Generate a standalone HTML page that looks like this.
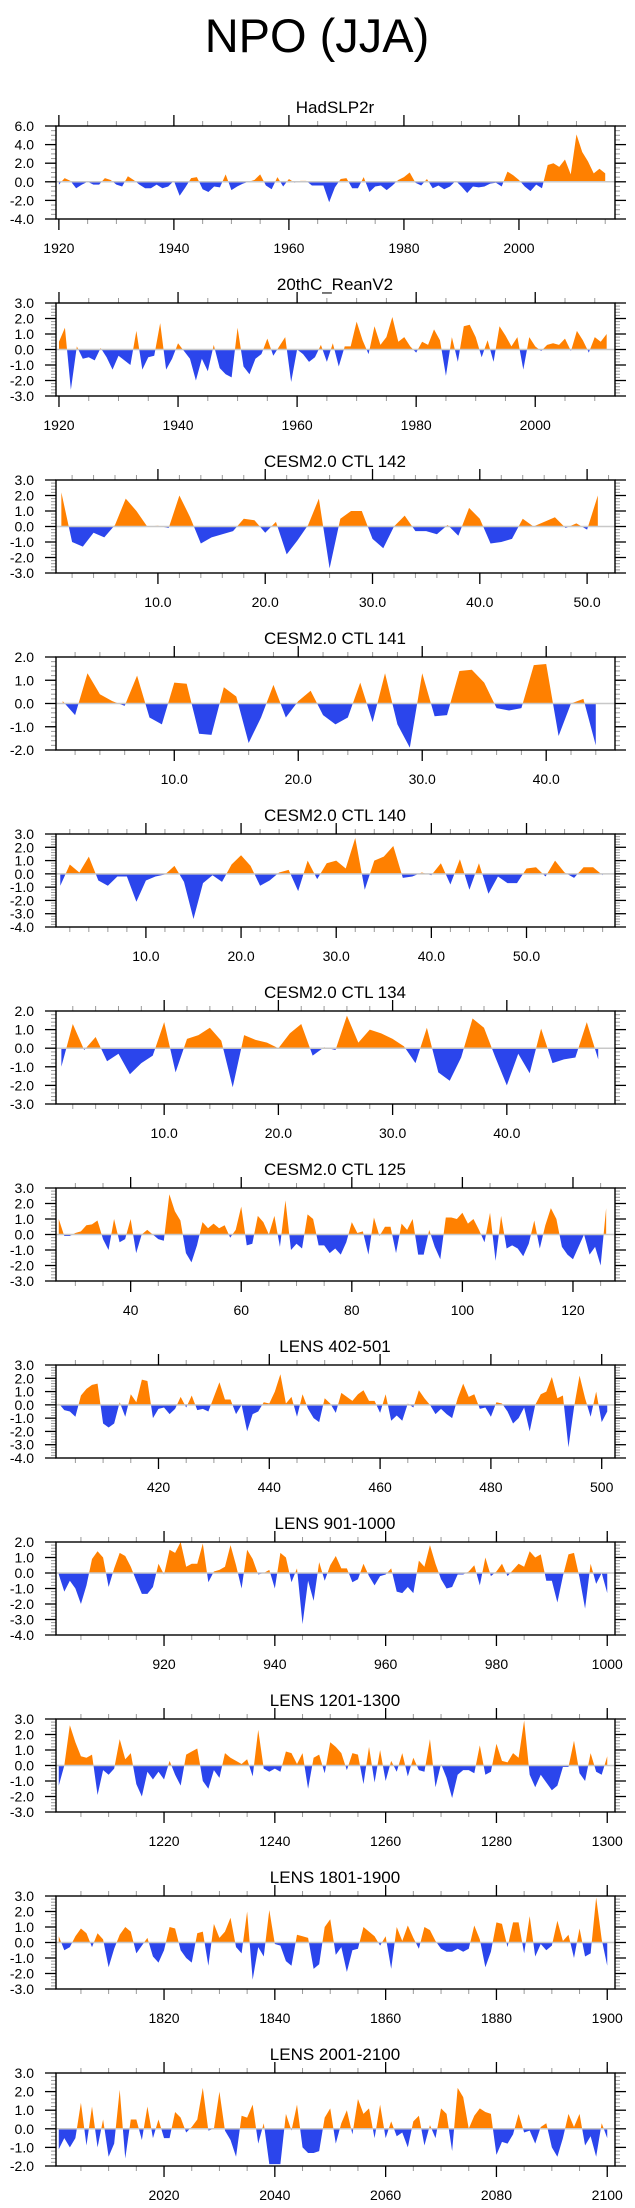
<!DOCTYPE html>
<html><head><meta charset="utf-8">
<style>
html,body{margin:0;padding:0;background:#fff;}
svg{display:block;font-family:"Liberation Sans",Arial,sans-serif;}
</style></head>
<body>
<svg id="chart" width="635" height="2208" viewBox="0 0 635 2208" xmlns="http://www.w3.org/2000/svg">
<rect x="0" y="0" width="635" height="2208" fill="#fff"/>
<text x="317" y="52" font-size="47" text-anchor="middle" fill="#000">NPO (JJA)</text>
<g id="panels"></g>
</svg>
<script>
const hadslp2r = [-0.3,0.4,0.1,-0.7,-0.3,0,-0.3,-0.3,0.4,0.2,
-0.3,-0.5,0.6,0.2,-0.3,-0.7,-0.7,-0.3,-0.7,-0.5,
0.1,-1.5,-0.6,0.4,0.5,-0.8,-1.1,-0.5,-0.6,0.8,
-0.9,-0.5,-0.2,0.0,0.2,0.8,-0.4,-0.8,0.5,-0.5,
0.3,-0.1,0.1,0.1,-0.4,-0.4,-0.4,-2.2,-0.6,0.3,
0.4,-0.7,-0.7,0.5,-1.1,-0.5,-0.4,-0.9,-0.4,0.2,
0.5,1.0,-0.1,-0.4,0.3,-0.7,-0.4,-0.8,-0.5,0.1,
-0.5,-1.2,-0.5,-0.6,-0.5,-0.2,-0.1,-0.5,1.1,0.7,
0.2,-0.5,-1.0,-0.3,-0.7,1.8,2.0,1.6,2.4,0.8,
5.1,3.2,2.2,0.9,1.4,0.9];
const reanV2 = [0.5,1.4,-2.6,0.2,-0.6,-0.5,-0.7,0.1,-0.5,-1.3,
-0.4,-0.7,-1.0,1.2,-1.3,-0.5,-0.4,1.7,-1.3,-0.6,
0.4,-0.1,-0.6,-2.0,-0.6,-1.4,0.3,-1.2,-1.6,-1.8,
1.4,-1.1,-1.6,-0.6,-0.3,0.7,-0.4,0.2,0.8,-2.1,
0.0,-0.3,-0.8,-0.5,0.3,-0.8,0.4,-1.1,0.2,0.2,
1.8,0.6,-0.3,1.5,0.3,0.8,2.1,0.5,0.8,0.2,
-0.2,0.5,0.3,1.3,0.6,-1.7,0.8,-0.8,1.5,1.6,
0.8,-0.5,0.6,-0.8,1.5,0.9,0.2,0.8,-1.3,0.8,
0.2,-0.1,0.3,0.4,0.3,0.7,-0.1,1.2,0.6,-0.2,
0.8,0.5,1.0];
const ctl142 = [2.2,-1.0,-1.3,-0.4,-0.7,0.1,1.8,1.0,0.0,0.05,
-0.1,2.0,0.6,-1.1,-0.7,-0.5,-0.3,0.5,0.4,-0.4,
0.3,-1.8,-0.9,0.1,1.8,-2.7,0.5,1.0,1.0,-0.8,
-1.4,0.0,0.7,-0.3,-0.3,-0.5,0.1,-0.6,1.2,0.5,
-1.1,-1.0,-0.8,0.5,0.0,0.3,0.6,-0.1,0.2,-0.2,2.0];
const ctl141 = [0.1,-0.5,1.3,0.4,0.1,-0.1,1.2,-0.6,-0.9,0.9,
0.85,-1.3,-1.35,0.7,0.3,-1.7,-0.6,0.8,-0.6,0.1,
0.55,-0.5,-0.9,-0.6,0.9,-0.8,1.3,-0.9,-1.9,1.3,
-0.55,-0.5,1.4,1.45,0.9,-0.2,-0.3,-0.2,1.65,1.7,
-1.4,0.0,0.2,-1.8];
const ctl140 = [-0.9,0.7,0.1,1.3,-0.5,-0.9,-0.2,-0.2,-2.1,-0.5,
-0.2,-0.05,0.6,-0.6,-3.4,-0.7,-0.1,-0.6,0.7,1.4,
0.6,-0.9,-0.5,0.1,0.3,-1.3,1.0,-0.4,0.8,1.0,
0.4,2.7,-1.2,1.0,1.3,2.1,-0.3,-0.2,0.1,-0.1,
0.8,-0.8,1.1,-1.2,0.8,-1.5,-0.2,-0.7,-0.7,0.4,
0.5,-0.2,1.0,0.1,-0.3,0.5,0.5,-0.1];
const ctl134 = [-1.0,1.3,-0.1,0.6,-0.7,-0.3,-1.4,-0.8,-0.4,1.4,
-1.3,0.5,0.7,1.1,0.4,-2.1,0.7,0.45,0.3,0.0,
0.8,1.3,-0.4,0.05,-0.1,1.75,0.3,1.0,0.8,0.5,
0.1,-0.8,1.1,-1.3,-1.75,-0.5,1.6,1.1,-0.5,-2.0,
-0.3,-1.35,1.05,-0.8,-0.6,-0.5,1.4,-0.6];
const ctl125 = [1.0,-0.1,-0.1,0.1,0.2,0.6,0.65,0.9,-0.3,-1.0,
1.0,-0.5,-0.3,1.0,-1.2,0.0,0.3,0.0,-0.3,-0.4,
2.6,1.5,0.9,-1.2,-1.8,-0.7,0.8,0.4,0.7,0.4,
0.6,-0.2,0.3,1.8,-0.7,-0.6,1.2,0.8,0.0,1.2,
-0.8,2.2,-1.0,-0.6,-0.9,1.3,1.0,-0.7,-0.7,-1.2,
-0.9,-1.3,-0.5,0.8,0.1,0.2,-1.3,1.1,-0.1,0.5,
0.5,-1.2,0.7,0.3,1.0,-1.3,-1.3,0.3,-0.8,-1.6,
1.1,1.1,1.0,1.4,0.7,1.0,0.3,-0.5,1.4,-1.7,
1.2,-0.9,-0.7,-0.9,-1.4,-0.6,0.9,-0.9,0.6,1.7,
1.0,-0.8,-1.3,-1.6,-0.8,0.0,-1.3,-0.8,-2.0,1.7];
const lens402 = [0.1,-0.4,-0.5,-0.9,0.7,1.2,1.5,1.6,-1.4,-1.7,
-1.4,0.2,-0.9,0.8,0.2,1.9,1.8,-1.0,-0.3,-0.2,
-0.7,-0.3,0.6,-0.2,0.7,-0.4,-0.3,-0.5,0.6,1.7,
0.4,0.4,-0.7,0.0,-2.0,-0.7,-0.5,0.2,0.1,1.0,
2.3,0.1,0.6,-0.9,0.8,-0.3,-1.0,-1.3,0.5,0.1,
-0.6,0.9,0.6,0.3,0.8,1.1,0.3,0.3,-0.6,0.8,
-1.2,-0.8,-1.2,0.1,-0.2,1.1,0.5,0.0,-0.7,-0.3,
-0.7,-1.0,0.5,1.6,0.6,0.8,-0.3,-0.2,-0.9,0.2,
0.1,-0.5,-1.4,-1.0,-0.2,-2.0,0.0,0.8,1.0,2.1,
0.5,0.7,-3.2,-0.2,2.2,0.5,-0.9,1.0,-1.3,-0.5];
const lens901 = [-0.1,-1.2,-0.5,-1.0,-2.0,-0.8,0.9,1.4,1.0,-0.9,
0.3,1.3,1.1,0.4,-0.5,-1.35,-1.35,-0.9,0.6,-0.1,
1.5,1.3,2.0,0.4,0.6,0.6,1.9,-0.6,0.1,0.2,
0.4,1.8,0.5,-1.0,1.5,0.9,-0.1,0.0,0.2,-1.0,
1.3,1.0,-0.6,0.3,-3.3,-0.5,-1.8,0.7,-0.5,0.5,
1.1,0.3,0.3,-0.6,-0.4,0.6,-0.2,-0.8,-0.2,-0.1,
0.3,-1.2,-1.3,-0.9,-1.3,0.8,0.4,1.8,0.6,-0.4,
-1.0,-0.9,-0.1,-0.1,0.1,0.5,-0.8,1.0,-0.2,0.1,
0.6,-0.2,0.2,0.6,0.4,1.4,1.0,1.2,-0.5,-0.5,
-1.9,-0.2,1.2,1.3,-0.3,-2.3,0.6,-0.7,0.0,-1.3];
const lens1201 = [-1.3,0.0,2.6,1.5,0.6,0.5,0.7,-1.9,-0.3,-0.6,
-0.2,1.7,0.4,0.8,-1.2,-2.0,-0.4,-0.9,-0.4,-0.9,
0.3,-0.6,-1.3,0.7,0.9,1.1,-1.0,-1.5,-0.3,-0.8,
0.8,0.5,0.3,0.1,0.4,-0.7,2.3,-0.2,-0.4,-0.2,
-0.4,0.9,0.8,0.1,0.8,-1.5,0.5,0.7,-0.5,1.5,
1.2,0.8,-0.3,0.8,0.7,-1.2,1.2,-1.1,1.0,-1.0,
0.3,-0.4,0.8,-0.7,0.5,-0.3,-0.4,1.7,-1.4,0.1,
-0.8,-2.1,-0.6,-0.3,-0.3,-0.5,1.3,-0.6,-0.4,1.4,
0.3,0.2,0.8,0.5,2.9,-0.6,-1.4,-0.6,-1.1,-1.6,
-1.3,-0.1,-0.1,1.6,-0.5,-1.0,0.8,-0.4,-0.6,0.6];
const lens1801 = [0.4,-0.5,-0.3,0.4,0.9,0.6,-0.3,0.6,0.2,-1.6,
-0.4,0.5,1.0,0.7,-0.7,-0.2,0.3,-0.9,-1.3,-0.5,
1.0,0.9,-0.5,-1.0,-1.3,0.6,0.7,-1.5,1.2,0.3,
0.7,1.6,-0.3,-0.7,2.0,-2.4,-0.3,-0.9,2.1,-0.1,
-0.2,-1.2,-1.5,0.5,0.4,0.3,-1.7,-1.4,1.0,1.5,
-0.8,-0.3,-1.9,-0.5,-0.4,1.0,0.7,0.4,-0.2,0.4,
-1.7,1.0,0.1,1.1,0.3,-0.4,1.0,0.8,0.1,-0.4,
-0.6,-0.6,-0.4,-0.6,-0.4,1.1,0.2,-1.6,-0.6,1.3,
1.2,-0.3,1.3,1.3,-0.7,1.7,-0.9,-0.1,-0.5,-0.2,
1.4,0.1,0.5,-1.0,0.9,-0.9,-0.7,2.9,0.2,-1.5];
const lens2001 = [-1.1,-0.5,-1.0,-0.5,1.4,-0.9,1.2,-1.0,0.5,-1.5,
-0.8,2.1,-1.6,0.5,0.5,-0.6,1.2,-0.5,0.5,-0.5,
-0.5,0.9,0.6,-0.2,0.1,0.5,2.2,-0.1,0.0,2.0,
-0.1,-0.6,-1.5,0.7,0.6,1.3,-0.8,0.3,-1.9,-1.9,
-1.9,0.8,-0.1,1.3,-1.0,-1.3,-1.3,-1.2,0.6,1.1,
-0.8,0.3,1.0,-0.3,1.6,0.8,1.1,-0.5,1.3,-0.5,
0.4,-0.4,-0.2,-1.0,0.4,0.7,-0.9,0.2,-0.5,1.1,
0.8,-1.2,2.2,1.7,0.0,0.7,1.1,0.9,0.8,-1.4,
-0.7,-0.8,-0.3,0.8,-0.2,-0.1,-0.8,0.1,0.3,-1.0,
-1.5,-0.5,0.8,0.1,0.8,-0.9,-0.4,-1.5,0.3,-0.5];

const panelTitles = ["HadSLP2r","20thC_ReanV2","CESM2.0 CTL 142","CESM2.0 CTL 141","CESM2.0 CTL 140","CESM2.0 CTL 134","CESM2.0 CTL 125","LENS 402-501","LENS 901-1000","LENS 1201-1300","LENS 1801-1900","LENS 2001-2100"];
const panelSeries = [hadslp2r,reanV2,ctl142,ctl141,ctl140,ctl134,ctl125,lens402,lens901,lens1201,lens1801,lens2001];
const panelStarts = [1920,1920,1,1,1,1,27,402,901,1201,1801,2001];
const panelXMin = [1919.5,1919.5,0.5,0.46,0.55,0.53,26.5,401.5,900.5,1200.5,1800.5,2000.5];
const panelXMax = [2016.7,2013.4,52.6,45.55,59.3,49.47,127.6,502.4,1001.4,1301.4,1901.4,2101.4];
const panelYMin = [-4,-3,-3,-2,-4,-3,-3,-4,-4,-3,-3,-2];
const panelYMax = [6,3,3,2,3,2,3,3,2,3,3,3];
const panelYStep = [2,1,1,1,1,1,1,1,1,1,1,1];
const panelXMajor = [20,20,10,10,10,10,20,20,20,20,20,20];
const panelXMinor = [5,5,2,2,2,2,5,5,5,5,5,5];
const panelXLabelDec = [0,0,1,1,1,1,0,0,0,0,0,0];

const NS = "http://www.w3.org/2000/svg";
const root = document.getElementById("panels");
const boxL = 56, boxR = 615, boxH = 93, top0 = 126, gap = 177;
function mk(tag, attrs, parent){
  const e = document.createElementNS(NS, tag);
  for (const k in attrs) e.setAttribute(k, attrs[k]);
  parent.appendChild(e);
  return e;
}
const ORANGE = "#FF8000", BLUE = "#2B45EC";

panelSeries.forEach((vals, i) => {
  const top = top0 + gap*i, bot = top + boxH;
  const x0 = panelXMin[i], x1 = panelXMax[i], y0 = panelYMin[i], y1 = panelYMax[i];
  const xs = v => boxL + (v - x0)/(x1 - x0)*(boxR - boxL);
  const ys = v => top + (y1 - v)/(y1 - y0)*boxH;
  const slug = panelTitles[i].toLowerCase().replace(/[^a-z0-9]+/g,'-');
  const g = mk("g", {}, root);
  
  

  const t = mk("text", {x: 335, y: top - 13, "font-size": 17, "text-anchor": "middle", fill: "#000"}, g);
  t.textContent = panelTitles[i];
  
  

  // clip paths
  const defs = mk("defs", {}, g);
  const cpA = mk("clipPath", {id: "ca" + i}, defs);
  mk("rect", {x: boxL, y: top, width: boxR - boxL, height: ys(0) - top}, cpA);
  const cpB = mk("clipPath", {id: "cb" + i}, defs);
  mk("rect", {x: boxL, y: ys(0), width: boxR - boxL, height: bot - ys(0)}, cpB);

  const s = panelStarts[i];
  let d = "M" + xs(s).toFixed(2) + "," + ys(0).toFixed(2);
  vals.forEach((v, k) => { d += " L" + xs(s + k).toFixed(2) + "," + ys(v).toFixed(2); });
  d += " L" + xs(s + vals.length - 1).toFixed(2) + "," + ys(0).toFixed(2) + " Z";
  const pa = mk("path", {d: d, fill: ORANGE, "clip-path": "url(#ca" + i + ")"}, g);
  
  
  const pb = mk("path", {d: d, fill: BLUE, "clip-path": "url(#cb" + i + ")"}, g);
  
  

  const zl = mk("line", {x1: boxL, x2: boxR, y1: ys(0), y2: ys(0), stroke: "#c8c8c8", "stroke-width": 1.5}, g);
  
  

  // y ticks
  const ystep = panelYStep[i];
  const ymin = ystep === 2 ? ystep/4 : ystep/5;
  for (let v = y0; v <= y1 + 1e-6; v += ymin) {
    const yy = ys(v);
    mk("line", {x1: boxL - 5, x2: boxL, y1: yy, y2: yy, stroke: "#999", "stroke-width": 1}, g);
    mk("line", {x1: boxR, x2: boxR + 5, y1: yy, y2: yy, stroke: "#999", "stroke-width": 1}, g);
  }
  for (let v = y0; v <= y1 + 1e-6; v += ystep) {
    const yy = ys(v);
    mk("line", {x1: boxL - 11, x2: boxL, y1: yy, y2: yy, stroke: "#000", "stroke-width": 1.3}, g);
    mk("line", {x1: boxR, x2: boxR + 11, y1: yy, y2: yy, stroke: "#000", "stroke-width": 1.3}, g);
    const lb = mk("text", {x: 34, y: yy + 5, "font-size": 14, "text-anchor": "end", fill: "#000"}, g);
    lb.textContent = v.toFixed(1);
    
    
  }
  // x ticks
  const mn = panelXMinor[i], mj = panelXMajor[i];
  for (let v = Math.ceil(x0 / mn) * mn; v <= x1; v += mn) {
    const xx = xs(v);
    mk("line", {x1: xx, x2: xx, y1: top - 5, y2: top, stroke: "#999", "stroke-width": 1}, g);
    mk("line", {x1: xx, x2: xx, y1: bot, y2: bot + 5, stroke: "#999", "stroke-width": 1}, g);
  }
  for (let v = Math.ceil(x0 / mj) * mj; v <= x1; v += mj) {
    const xx = xs(v);
    mk("line", {x1: xx, x2: xx, y1: top - 11, y2: top, stroke: "#000", "stroke-width": 1.3}, g);
    mk("line", {x1: xx, x2: xx, y1: bot, y2: bot + 11, stroke: "#000", "stroke-width": 1.3}, g);
    const lb = mk("text", {x: xx, y: bot + 34, "font-size": 14, "text-anchor": "middle", fill: "#000"}, g);
    lb.textContent = v.toFixed(panelXLabelDec[i]);
    
    
  }
  const box = mk("rect", {x: boxL, y: top, width: boxR - boxL, height: boxH, fill: "none", stroke: "#000", "stroke-width": 1.4}, g);
  
  
});
</script>
</body></html>
